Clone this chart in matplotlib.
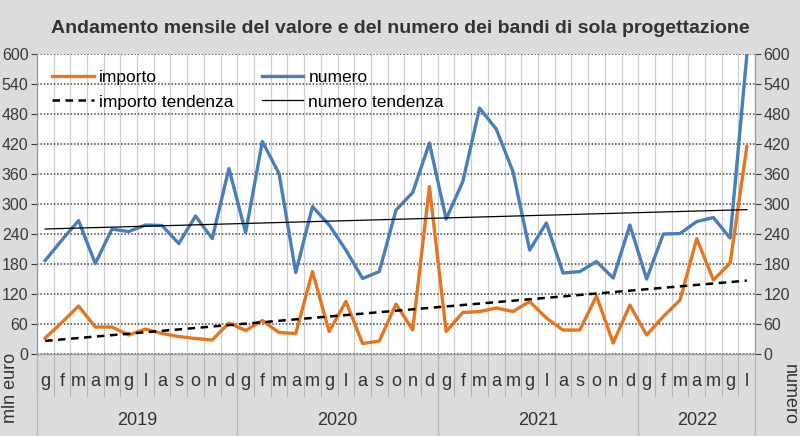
import matplotlib.pyplot as plt
import numpy as np

# mesi gen 2019 - lug 2022
mesi = ['g', 'f', 'm', 'a', 'm', 'g', 'l', 'a', 's', 'o', 'n', 'd'] * 3 + ['g', 'f', 'm', 'a', 'm', 'g', 'l']
anni = ['2019', '2020', '2021', '2022']

importo = [32, 63, 96, 54, 54, 38, 50, 41, 35, 31, 28, 62,
           47, 67, 43, 41, 165, 45, 105, 21, 26, 100, 48, 335,
           45, 83, 85, 92, 85, 105, 72, 48, 48, 116, 22, 98,
           38, 75, 108, 231, 148, 182, 415]
numero = [187, 228, 267, 181, 250, 245, 258, 257, 221, 276, 231, 371,
          243, 425, 361, 163, 295, 258, 208, 151, 165, 288, 323, 422,
          270, 345, 492, 450, 365, 208, 262, 162, 165, 185, 152, 258,
          150, 240, 241, 265, 273, 232, 598]

x = np.arange(len(mesi))
trend_imp = np.polyval(np.polyfit(x, importo, 1), x)
trend_num = np.polyval(np.polyfit(x, numero, 1), x)

plt.rcParams['font.family'] = ['Liberation Sans', 'DejaVu Sans']

bg = '#dcdcdc'
fig = plt.figure(figsize=(8, 4.36), dpi=100, facecolor=bg)
ax = fig.add_axes([0.046, 0.188, 0.898, 0.688])
ax.set_facecolor('white')
ax2 = ax.twinx()

l1, = ax.plot(x, importo, color='#e5761f', lw=2.4, label='importo')
l3, = ax.plot(x, trend_imp, color='black', lw=1.8, ls=(0, (3, 2.2)), label='importo tendenza')
l2, = ax2.plot(x, numero, color='#4a7ebb', lw=2.4, label='numero')
l4, = ax2.plot(x, trend_num, color='black', lw=0.9, label='numero tendenza')

for a in (ax, ax2):
    a.set_ylim(0, 600)
    a.set_yticks(np.arange(0, 601, 60))
    a.tick_params(axis='y', labelsize=11.5, colors='#3a3a3a', length=4, width=0.8, pad=2)
    a.set_xlim(-0.5, len(mesi) - 0.5)
    for s in a.spines.values():
        s.set_color('#999999')

ax.set_xticks([])
ax.set_xticks(np.arange(-0.5, len(mesi)), minor=True)
ax.tick_params(axis='x', which='minor', length=0)
ax.grid(axis='x', which='minor', color='#cfcfcf', lw=0.9)
ax.grid(axis='y', which='major', color='#444444', lw=1.1, ls=(0, (1, 1.2)))
ax.set_axisbelow(True)
ax.spines['top'].set_visible(False)
ax2.spines['top'].set_visible(False)

# etichette dei mesi e degli anni sotto l'asse
tr = ax.get_xaxis_transform()
for i, m in enumerate(mesi):
    ax.text(i, -0.09, m, transform=tr, ha='center', va='center', fontsize=13, color='#333333')
    ax.plot([i - 0.5, i - 0.5], [0, -0.14], transform=tr, color='#b5b5b5', lw=0.8, clip_on=False)
bordi = [-0.5, 11.5, 23.5, 35.5, len(mesi) - 0.5]
for k, anno in enumerate(anni):
    ax.text((bordi[k] + bordi[k + 1]) / 2, -0.22, anno, transform=tr, ha='center', va='center',
            fontsize=13, color='#333333')
for b in bordi:
    ax.plot([b, b], [0, -0.28], transform=tr, color='#b5b5b5', lw=0.9, clip_on=False)

fig.text(0.013, 0.11, 'mln euro', rotation=90, ha='center', va='center', fontsize=13, color='#333333')
fig.text(0.986, 0.095, 'numero', rotation=-90, ha='center', va='center', fontsize=13, color='#333333')

fig.text(0.5, 0.935, 'Andamento mensile del valore e del numero dei bandi di sola progettazione',
         ha='center', va='center', fontsize=14, fontweight='bold', color='#333333')

ax2.legend([l1, l3, l2, l4], ['importo', 'importo tendenza', 'numero', 'numero tendenza'],
           ncol=2, loc='upper left', bbox_to_anchor=(0.0, 1.0), frameon=False, fontsize=12.5,
           handlelength=2.4, columnspacing=1.6, labelspacing=0.55, handletextpad=0.3)

fig.savefig('out.png', dpi=100, facecolor=bg)
